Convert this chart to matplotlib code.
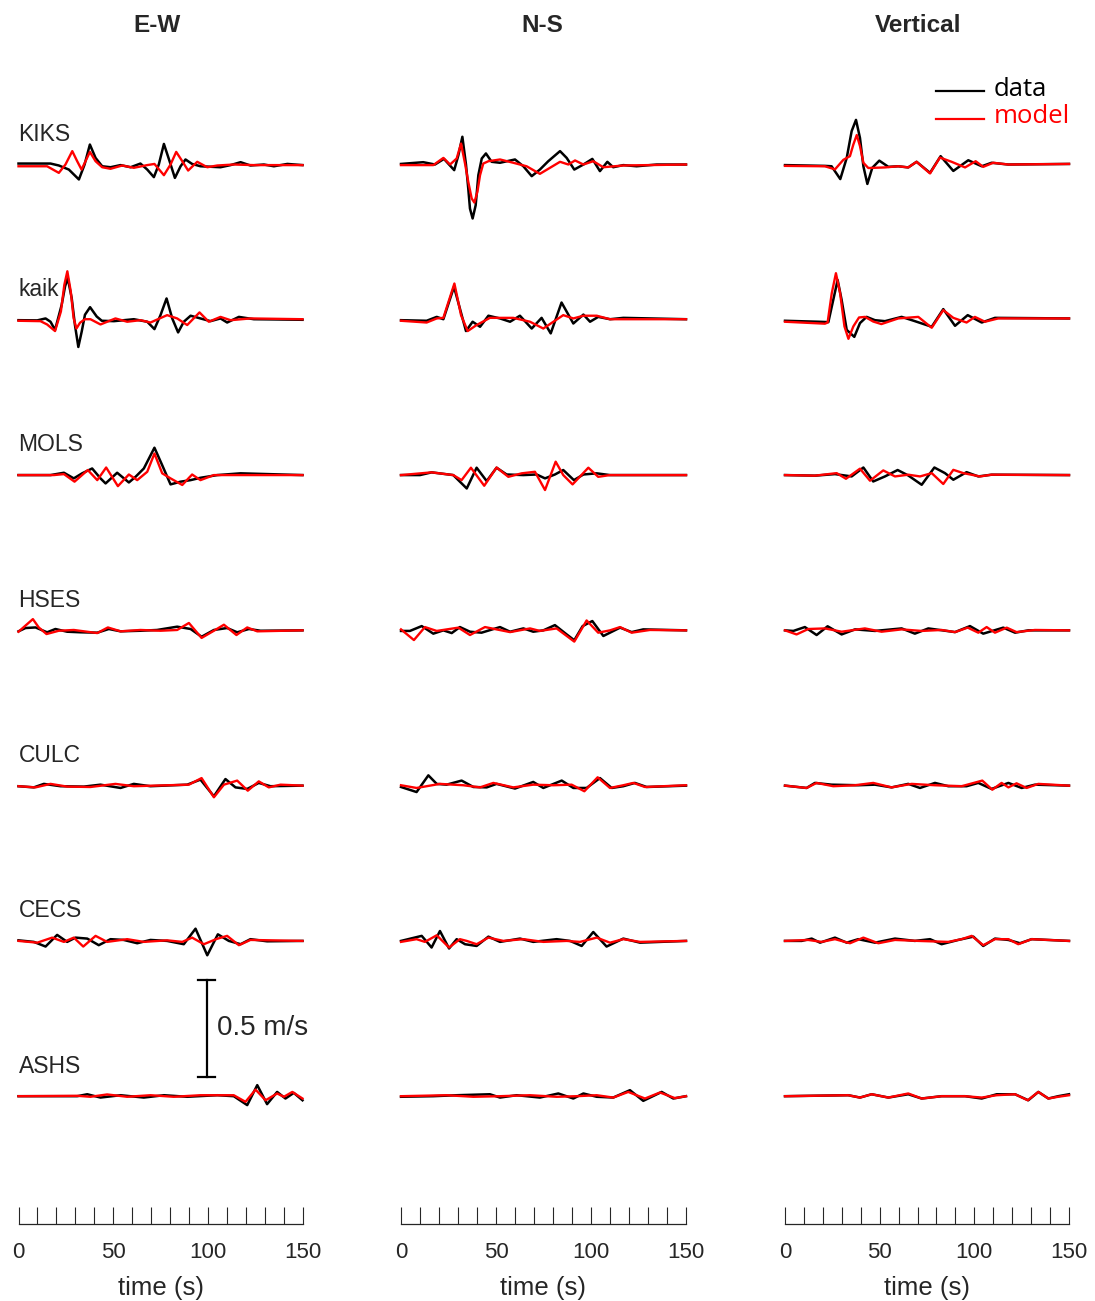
import matplotlib
matplotlib.use('Agg')
import matplotlib.pyplot as plt
from matplotlib.lines import Line2D

plt.rcParams['font.family'] = ['Liberation Sans', 'DejaVu Sans']

TXT = '#262626'

stations = ['KIKS', 'kaik', 'MOLS', 'HSES', 'CULC', 'CECS', 'ASHS']
components = ['E-W', 'N-S', 'Vertical']
spacing = 0.8  # m/s between traces

# each trace: (time s, velocity m/s) picked at the turning points
kiks_ew_data = [(0, .005), (16.9, .005), (21.3, -.005), (26.6, -.026), (31.9, -.077), (34.9, 0), (37.7, .103),
                (40.7, .034), (44.2, -.009), (48.6, -.014), (53.9, -.003), (59.2, -.014), (64.4, .005), (68, -.026),
                (71.5, -.065), (74.1, 0), (76.8, .106), (79.8, .017), (82.6, -.069), (85.6, -.009), (88.2, .026),
                (91.7, .003), (96.1, -.009), (106.7, -.014), (112, -.003), (117.3, .012), (122.5, -.005), (129.6, 0),
                (134.9, -.009), (142, .003), (150, -.003)]
kiks_ew_model = [(0, -.009), (15.1, -.009), (21.3, -.043), (24.8, 0), (28.4, .069), (31, .017), (33.3, -.026),
                 (35.4, .017), (37.7, .065), (40.7, .017), (44.2, -.014), (48.6, -.022), (54.8, -.005), (60.9, -.017),
                 (68, -.003), (71.8, .003), (76.8, -.055), (80.3, 0), (83.3, .065), (86.5, .017), (89.6, -.031),
                 (94.4, .014), (99.7, -.014), (105, -.005), (113.7, 0), (124.3, -.003), (150, -.003)]
kaik_ew_data = [(0, -.002), (9.9, -.003), (14.3, .007), (16.9, -.010), (19.3, -.052), (22.8, .077), (24.6, .172),
                (26.0, .215), (28.1, .112), (29.8, -.026), (31.6, -.140), (33.4, -.060), (35.1, .026), (37.8, .065),
                (41.3, .017), (44, -.005), (50.4, -.007), (60.9, .003), (68, -.010), (71.8, -.048), (75, .024),
                (78.2, .110), (81.2, .007), (84.3, -.065), (87.3, -.010), (90.9, .021), (96.1, .007), (101.4, -.007),
                (106.7, .007), (110.2, -.014), (116.4, .015), (124.3, .003), (134, .002), (150, 0)]
kaik_ew_model = [(0, -.005), (11.6, -.007), (15.1, -.024), (19.3, -.058), (22.4, .043), (24.2, .180), (25.8, .250),
                 (27.6, .146), (29.1, .009), (30.6, -.045), (32.5, -.015), (35.1, .003), (38, .003), (43.3, -.024),
                 (51.2, .007), (57.4, -.010), (64.4, -.002), (69.7, -.014), (78.5, .024), (83.8, .007), (89.1, -.027),
                 (95.6, .038), (100.5, -.010), (106.7, .015), (112, -.002), (122.5, .007), (150, .003)]
mols_ew_data = [(0, 0), (16.9, 0), (24, .012), (29.2, -.017), (33.6, .009), (38.9, .034), (43.3, -.017),
                (46, -.043), (52.1, .012), (58.3, -.038), (61.8, -.009), (66.2, .034), (71.8, .141), (75.9, .051),
                (80.3, -.048), (85.6, -.034), (90.9, -.026), (96.1, -.014), (105, 0), (117.3, .009), (150, 0)]
mols_ew_model = [(0, 0), (18.7, 0), (24, .005), (29.6, -.034), (36.6, .026), (41.6, -.026), (46.3, .039),
                 (52.5, -.057), (58.3, .003), (62.7, -.026), (68, .017), (71.8, .111), (75.9, .009), (80.3, -.017),
                 (86.5, -.051), (91.7, .003), (96.1, -.026), (103.2, 0), (150, 0)]
hses_ew_data = [(0, -.005), (3.7, .012), (9, .015), (15.1, -.010), (19.5, .007), (25.7, -.007), (32.8, -.010),
                (41.6, -.012), (47.7, .007), (53.9, -.005), (64.4, -.002), (73.2, .002), (83.8, .019), (90.9, .007),
                (96.7, -.033), (103.2, .002), (110.2, .012), (115.5, -.010), (121.7, .007), (127.8, -.002), (150, 0)]
hses_ew_model = [(0, -.007), (7.6, .058), (10.7, .015), (14.8, -.019), (21.3, -.002), (29.2, .002), (41.6, -.014),
                 (47.2, .015), (53.9, -.005), (64.4, .002), (75, -.002), (83.8, .002), (90, .038), (96.7, -.039),
                 (103.2, -.002), (108.5, .029), (115.1, -.024), (120.8, .015), (126.1, -.005), (150, 0)]
culc_ew_data = [(0, -.003), (8.1, -.009), (13.4, .009), (22.2, -.003), (34.5, -.005), (43.3, .005), (53.9, -.012),
                (60.9, .009), (69.7, -.003), (89.1, .005), (96.1, .031), (103.2, -.055), (109.3, .034),
                (114.6, -.009), (120.8, -.017), (126.9, .014), (133.1, -.003), (150, 0)]
culc_ew_model = [(0, -.003), (9, -.009), (16.9, .009), (25.7, -.005), (38, -.007), (51.2, .009), (60.9, -.003),
                 (71.5, 0), (90, .005), (96.7, .039), (103.2, -.060), (108.5, .005), (115.5, .026), (121.1, -.026),
                 (126.9, .022), (132.2, -.009), (138.4, .005), (150, 0)]
cecs_ew_data = [(0, .003), (8.1, -.005), (14.3, -.029), (20.4, .031), (25.7, -.005), (30.1, .017), (36.3, .012),
                (42.4, -.022), (48.6, .009), (55.6, .005), (62.7, -.012), (69.7, .005), (78.5, 0), (87.3, -.017),
                (93.5, .063), (99.7, -.074), (105.3, .034), (111.1, 0), (117.3, -.017), (122.5, .009),
                (131.3, -.002), (150, 0)]
cecs_ew_model = [(0, 0), (9.9, -.009), (17.8, .017), (24, -.005), (29.2, .017), (34.2, -.029), (40.7, .026),
                 (46.8, -.005), (57.4, .009), (66.2, -.005), (78.5, .003), (86.5, -.005), (91.7, .017),
                 (97.9, -.017), (104.6, .010), (110.2, .026), (116.4, -.022), (122.5, .005), (150, 0)]
ashs_ew_data = [(0, 0), (31, 0), (36.3, .010), (43.3, -.007), (53.9, .005), (66.2, -.007), (76.8, .005),
                (89.1, -.003), (105, .005), (113.7, 0), (120.8, -.046), (126.1, .057), (131.3, -.041), (136.6, .022),
                (141, -.012), (145.4, .017), (150, -.021)]
ashs_ew_model = [(0, 0), (31, .002), (38, -.003), (46.8, .009), (57.4, -.003), (69.7, .005), (82, -.003),
                 (96.1, .005), (113.7, .005), (119.9, -.029), (125.2, .034), (130.5, -.021), (136.6, .014),
                 (140.2, -.003), (144.6, .022), (150, -.012)]

kiks_ns_data = [(0, .003), (11.7, .012), (17.9, 0), (22.6, .029), (28.0, -.029), (30.2, .048), (32.3, .143),
                (34.2, 0), (35.4, -.124), (36.3, -.227), (37.7, -.278), (39.3, -.210), (40.7, -.055), (42.5, .031),
                (44.7, .057), (47.7, .014), (52.1, .009), (60, .026), (64.4, -.009), (68.8, -.060), (73.1, -.026),
                (77.5, .017), (83.7, .069), (87.2, .034), (91.2, -.026), (96, 0), (100.7, .029), (104.7, -.034),
                (108.6, .014), (111.7, -.014), (117, -.003), (124, -.009), (134.6, 0), (150, 0)]
kiks_ns_model = [(0, -.003), (17, -.003), (22.3, .034), (25.8, 0), (29.3, .031), (31.6, .108), (33.7, .005),
                 (35.4, -.089), (37.2, -.175), (38.6, -.196), (40.2, -.141), (41.6, -.055), (43.3, .005), (46, .017),
                 (52.1, .026), (59.1, .009), (66.1, -.009), (73.1, -.048), (78.4, -.017), (83.7, .014), (88.1, 0),
                 (91.6, .021), (96, 0), (101.2, .017), (106.5, -.014), (117, -.005), (150, 0)]
kaik_ns_data = [(0, -.002), (13.5, -.005), (18.8, .015), (22.3, .003), (27.9, .170), (31, .058), (34.2, -.058),
                (37.7, -.010), (41.6, -.036), (46, .021), (52.1, .007), (57.4, -.010), (62.6, .021), (68.8, -.045),
                (74, .010), (78.8, -.070), (84.5, .089), (90.7, -.019), (96, .027), (99.5, -.010), (103.8, .015),
                (110, .003), (117, .010), (150, .003)]
kaik_ns_model = [(0, -.005), (13.5, -.014), (18.8, .007), (22.3, .010), (28.1, .187), (31.6, .024), (35.1, -.058),
                 (39.8, -.027), (46.8, .010), (59.1, .010), (67.9, -.010), (74.9, -.045), (80.2, -.010),
                 (85.4, .024), (90.7, .007), (96, .021), (103, .021), (110, .003), (150, .003)]
mols_ns_data = [(0, 0), (10, 0), (16.1, .014), (27.5, 0), (34.6, -.069), (39.8, .038), (45.1, -.031), (50.3, .038),
                (55.6, .003), (64.4, 0), (71.4, .003), (75.8, -.017), (81, .003), (85.4, .026), (91, -.026),
                (96, .003), (103, .009), (110, 0), (150, 0)]
mols_ns_model = [(0, 0), (16.1, .014), (27.5, 0), (31.9, -.026), (36.8, .038), (43.8, -.055), (50.3, .039),
                 (56.5, -.009), (63.5, .009), (70.5, .017), (75.8, -.077), (81.4, .069), (85.4, 0), (90.3, -.048),
                 (98.6, .038), (103.8, -.009), (110, 0), (150, 0)]
hses_ns_data = [(0, -.003), (4.7, -.003), (10.9, .022), (17, -.017), (22.3, 0), (26.7, -.014), (31, .017),
                (36.3, -.007), (42.4, -.012), (52.1, .017), (57.4, -.007), (64.4, .010), (69.6, -.007), (74.9, 0),
                (81, .027), (87.2, -.021), (91.2, -.051), (95.6, .022), (100.7, .048), (106.5, -.029), (115.3, .014),
                (121.4, -.009), (127.5, .005), (150, 0)]
hses_ns_model = [(0, .005), (6.8, -.050), (12.6, .017), (18.8, -.003), (30.2, .014), (36.3, -.024), (44.2, .017),
                 (50.3, .005), (57.4, -.009), (67.9, .010), (73.1, -.003), (81.9, .010), (91.2, -.058), (97.7, .051),
                 (103.8, -.012), (110, 0), (115.3, .017), (121.4, -.012), (131, .002), (150, 0)]
culc_ns_data = [(0, -.007), (8.2, -.033), (14.4, .053), (18.8, .009), (24, .005), (31.9, .026), (38.1, -.007),
                (45.1, -.009), (50.3, .009), (60, -.015), (69.6, .019), (74.9, -.012), (84.6, .026), (90.7, -.012),
                (97.7, -.012), (104.7, .039), (110.9, -.012), (117, -.003), (123.1, .014), (129.3, -.007), (150, 0)]
culc_ns_model = [(0, .002), (8.2, -.012), (20.5, .009), (32.8, .002), (41.6, -.009), (48.6, .014), (59.1, -.009),
                 (69.6, .005), (80.2, .002), (89.8, .005), (96.5, -.029), (103.5, .043), (110, -.012), (117, .002),
                 (122.3, .014), (128.4, -.007), (150, .002)]
cecs_ns_data = [(0, 0), (10.9, .026), (16.1, -.034), (20.5, .051), (25.3, -.039), (29.3, .009), (33.7, -.017),
                (39.8, -.026), (46, .022), (52.1, -.005), (62.6, .012), (69.6, -.005), (81.9, .009), (89, 0),
                (95.1, -.026), (101.2, .046), (108.2, -.029), (117, .012), (125.8, -.009), (150, 0)]
cecs_ns_model = [(0, -.005), (8.2, .009), (12.6, -.005), (18.8, .029), (25.3, -.034), (31, .009), (34.6, 0),
                 (39.8, -.017), (46, .017), (53.9, 0), (64.4, .009), (74.9, -.005), (87.2, 0), (94.2, -.005),
                 (103, .017), (110, -.009), (117, .009), (125.8, -.005), (150, 0)]
ashs_ns_data = [(0, -.003), (17, 0), (29.3, .005), (46.8, .010), (52.1, -.007), (60.9, .005), (73.1, -.007),
                (82.8, .014), (90.7, -.012), (96, .014), (103, -.003), (111.7, -.007), (120.5, .031), (127.5, -.024),
                (137.2, .022), (143.3, -.012), (150, 0)]
ashs_ns_model = [(0, 0), (24, .005), (38.1, -.003), (52.1, 0), (67.9, .005), (81.9, -.003), (92.4, 0), (103, .005),
                 (111.7, -.007), (119.6, .022), (128.4, -.012), (136.3, .019), (144.2, -.010), (150, 0)]

kiks_z_data = [(0, -.003), (21.1, -.007), (24.6, -.009), (29.2, -.075), (32.6, .034), (35.2, .172), (37.5, .230),
               (39.6, .137), (41.4, -.009), (43.5, -.100), (46.1, -.017), (49.8, .020), (54.6, -.012), (59.8, -.009),
               (65.1, -.015), (69.5, .014), (76.6, -.043), (82.2, .043), (88.9, -.033), (96.8, .022), (103.9, -.009),
               (109.1, .009), (117.9, 0), (150, .003)]
kiks_z_model = [(0, -.007), (21.1, -.009), (26.4, -.025), (30.8, .024), (34.3, .043), (36.1, .103), (37.9, .152),
                (39.6, .095), (41.4, .009), (44, -.018), (52.8, -.015), (59.8, -.009), (65.1, -.015), (69.5, .014),
                (76.6, -.046), (81.8, .036), (88, .014), (95.1, -.015), (100.7, .017), (104.7, -.012), (110, .009),
                (117.9, 0), (150, .003)]
kaik_z_data = [(0, -.005), (17.6, -.010), (22.9, -.012), (25.5, .103), (27.8, .205), (29.9, .103), (32.6, -.052),
               (36.6, -.088), (39.6, -.017), (43.1, .015), (47.5, -.002), (52.8, -.007), (61.6, .015), (68.6, -.007),
               (77.5, -.036), (83.6, .055), (89.8, -.031), (96.5, .024), (103.9, -.014), (110.9, .010), (150, .007)]
kaik_z_model = [(0, -.010), (21.1, -.020), (22.5, -.014), (24.7, .137), (26.9, .240), (29.1, .137), (31.4, -.034),
                (33.5, -.098), (36.1, -.034), (39.1, .012), (42.3, .015), (46.6, -.009), (50.9, -.022), (59.8, .007),
                (70.4, .015), (77.5, -.041), (83.6, .050), (88.9, .010), (95.9, -.014), (100.3, .015), (105.6, -.010),
                (112.6, .007), (150, .007)]
mols_z_data = [(0, 0), (15.8, -.003), (26.4, .005), (35.2, -.007), (41.4, .039), (46.6, -.033), (52.8, -.007),
               (59.5, .026), (65.1, -.002), (72.2, -.050), (78.9, .039), (84.5, .010), (88.9, -.024), (95.9, .015),
               (102.1, -.007), (109.1, .002), (150, 0)]
mols_z_model = [(0, 0), (15.8, -.003), (27.3, .010), (32.2, -.019), (39.6, .033), (44.9, -.029), (51.9, .024),
                (58.1, -.007), (65.1, .002), (71.3, -.007), (77.5, .010), (83.6, -.046), (88.9, .027), (94.2, .010),
                (103, -.007), (109.1, .002), (150, 0)]
hses_z_data = [(0, 0), (4.4, -.003), (10.5, .017), (16.7, -.024), (22.5, .021), (29.9, -.021), (37, .005),
               (47.5, -.003), (61.6, .010), (68.6, -.017), (75.7, .010), (89.8, -.009), (97.7, .022), (104.7, -.017),
               (115.3, .014), (121.5, -.012), (128.5, 0), (150, 0)]
hses_z_model = [(0, 0), (6.1, -.021), (12.3, .007), (21.1, .010), (29.9, -.007), (42.2, .010), (51, -.007),
                (61.6, .005), (72.2, -.003), (82.7, .002), (89.8, -.009), (96.5, .014), (102.1, -.012), (106.5, .017),
                (110.9, -.012), (117.1, .014), (122.3, -.009), (132, .002), (150, 0)]
culc_z_data = [(0, 0), (11.4, -.012), (15.8, .014), (24.6, .005), (38.7, .002), (47.5, .005), (56.3, -.009),
               (65.1, .009), (71.3, -.012), (79.2, .014), (86.3, -.003), (95.9, -.003), (102.1, .014),
               (109.1, -.017), (118, .014), (125, -.012), (132, .005), (150, 0)]
culc_z_model = [(0, 0), (11.4, -.012), (16.7, .014), (25.5, -.003), (37, .002), (46.6, .014), (56.3, -.009),
                (66.9, .009), (79.2, .002), (93.3, -.003), (104.2, .026), (109.5, -.021), (114.4, .014),
                (118, -.009), (122.3, .012), (127.6, -.012), (133.8, .009), (150, 0)]
cecs_z_data = [(0, 0), (8.8, 0), (14.1, .012), (18.5, -.009), (26.4, .017), (32.6, -.009), (38.7, .009),
               (47.5, -.009), (58.1, .012), (68.6, 0), (76.6, .009), (82.7, -.017), (91.5, .005), (99.5, .022),
               (104.7, -.026), (110.9, .012), (118, .005), (124.1, -.012), (130.3, .009), (150, 0)]
cecs_z_model = [(0, 0), (12.3, .005), (19.3, -.005), (26.4, .009), (34.3, -.012), (41.4, .017), (49.3, -.012),
                (58.1, .005), (70.4, 0), (86.2, -.005), (93.3, .009), (98.6, .026), (104.7, -.022), (110.9, .009),
                (118, .009), (123.2, -.017), (130.3, .009), (150, 0)]
ashs_z_data = [(0, 0), (33.4, .005), (39.6, -.007), (45.8, .010), (54.6, -.007), (65.1, .010), (72.2, -.012),
               (82.7, 0), (95.1, 0), (103.9, -.012), (111.8, .010), (121.5, .010), (128.5, -.021), (133.8, .022),
               (139.1, -.012), (144.3, 0), (150, .010)]
ashs_z_model = [(0, 0), (33.4, .005), (39.6, -.007), (45.8, .010), (54.6, -.007), (65.1, .014), (72.2, -.012),
                (82.7, 0), (95.1, 0), (103.9, -.007), (111.8, .005), (121.5, .010), (128.2, -.021), (133.8, .022),
                (139.1, -.012), (144.3, -.003), (150, .005)]

traces = {
    'E-W': [(kiks_ew_data, kiks_ew_model), (kaik_ew_data, kaik_ew_model), (mols_ew_data, mols_ew_model),
            (hses_ew_data, hses_ew_model), (culc_ew_data, culc_ew_model), (cecs_ew_data, cecs_ew_model),
            (ashs_ew_data, ashs_ew_model)],
    'N-S': [(kiks_ns_data, kiks_ns_model), (kaik_ns_data, kaik_ns_model), (mols_ns_data, mols_ns_model),
            (hses_ns_data, hses_ns_model), (culc_ns_data, culc_ns_model), (cecs_ns_data, cecs_ns_model),
            (ashs_ns_data, ashs_ns_model)],
    'Vertical': [(kiks_z_data, kiks_z_model), (kaik_z_data, kaik_z_model), (mols_z_data, mols_z_model),
                 (hses_z_data, hses_z_model), (culc_z_data, culc_z_model), (cecs_z_data, cecs_z_model),
                 (ashs_z_data, ashs_z_model)],
}

W, H = 1095, 1301
fig = plt.figure(figsize=(W / 100, H / 100), dpi=100)

# axes placement in pixels (left edge of t=0, right edge of t=150)
col_px = [(18.5, 302.5), (401, 686), (785, 1069)]
title_px = [157, 542, 918]
y_bot, y_top = 1224.3, 50
ylim = (-5.460, 0.590)

axes = []
for k, comp in enumerate(components):
    x0, x1 = col_px[k]
    ax = fig.add_axes([x0 / W, (H - y_bot) / H, (x1 - x0) / W, (y_bot - y_top) / H])
    ax.set_xlim(0, 150)
    ax.set_ylim(*ylim)
    for s in ['top', 'left', 'right']:
        ax.spines[s].set_visible(False)
    ax.spines['bottom'].set_color(TXT)
    ax.spines['bottom'].set_linewidth(0.9)
    ax.set_yticks([])
    ax.set_xticks([0, 50, 100, 150])
    ax.set_xticks(range(0, 151, 10), minor=True)
    ax.tick_params(axis='x', which='both', direction='in', length=12, width=0.8, color=TXT)
    ax.tick_params(axis='x', which='major', labelsize=16, labelcolor=TXT, pad=13)
    ax.set_xlabel('time (s)', fontsize=18.5, color=TXT, labelpad=9)
    ax.patch.set_visible(False)

    for i, (d, m) in enumerate(traces[comp]):
        off = -i * spacing
        td, vd = zip(*d)
        tm, vm = zip(*m)
        ax.plot(td, [v + off for v in vd], color='black', lw=1.8, solid_joinstyle='round', clip_on=False)
        ax.plot(tm, [v + off for v in vm], color='red', lw=1.7, solid_joinstyle='round', clip_on=False)

    fig.text(title_px[k] / W, 1 - 25 / H, comp, ha='center', va='center',
             fontsize=17.5, fontweight='bold', color=TXT)
    axes.append(ax)

# station names
ax = axes[0]
for i, name in enumerate(stations):
    ax.text(0, -i * spacing + 0.155, name, ha='left', va='center', fontsize=16.5, color=TXT)

# scale bar 0.5 m/s
sb_base = -6 * spacing + 0.1
ax.plot([99.5, 99.5], [sb_base, sb_base + 0.5], color='black', lw=1.6, clip_on=False)
ax.plot([95, 104], [sb_base, sb_base], color='black', lw=1.6, clip_on=False)
ax.plot([95, 104], [sb_base + 0.5, sb_base + 0.5], color='black', lw=1.6, clip_on=False)
ax.text(104.6, sb_base + 0.25, '0.5 m/s', ha='left', va='center', fontsize=20, color=TXT, clip_on=False)

# legend
for y, lab, col in [(91, 'data', 'black'), (118.5, 'model', 'red')]:
    fig.add_artist(Line2D([936 / W, 984 / W], [1 - y / H, 1 - y / H], color=col, lw=1.6,
                          transform=fig.transFigure))
    fig.text(994 / W, 1 - (y - 2) / H, lab, ha='left', va='center', fontsize=18.5,
             color=col, family=['Open Sans', 'DejaVu Sans'])

fig.savefig('out.png', dpi=100)
